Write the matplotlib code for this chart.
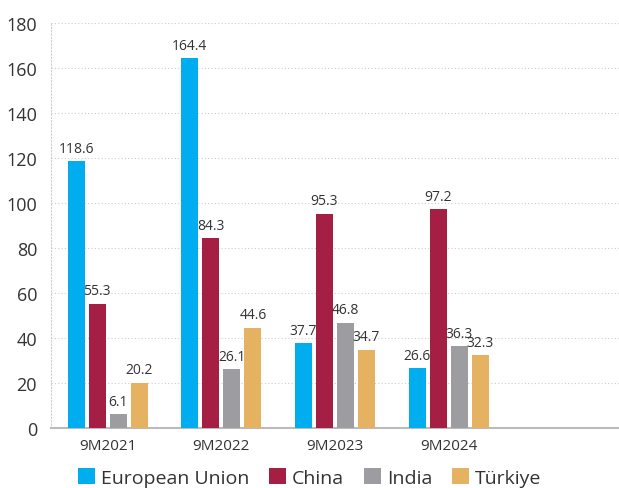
import matplotlib.pyplot as plt
import numpy as np

periods = ["9M2021", "9M2022", "9M2023", "9M2024"]
series_names = ["European Union", "China", "India", "Türkiye"]
eu = [118.6, 164.4, 37.7, 26.6]
china = [55.3, 84.3, 95.3, 97.2]
india = [6.1, 26.1, 46.8, 36.3]
turkiye = [20.2, 44.6, 34.7, 32.3]
colors = ["#00aeef", "#a51f45", "#9d9ca1", "#e5b262"]

plt.rcParams['font.family'] = ['Open Sans', 'DejaVu Sans']
text_color = "#333333"

fig = plt.figure(figsize=(6.19, 4.89), dpi=100)
ax = fig.add_axes([0.0824, 0.1227, 0.9176, 0.8283])

x = np.arange(len(periods))
width = 0.15
step = 0.185
all_series = [eu, china, india, turkiye]

for i, (name, vals, col) in enumerate(zip(series_names, all_series, colors)):
    offs = (i - 1.5) * step
    bars = ax.bar(x + offs, vals, width, color=col, label=name, zorder=3)
    for bar, v in zip(bars, vals):
        ax.annotate("{:.1f}".format(v), xy=(bar.get_x() + bar.get_width() / 2, v),
                    xytext=(0, 4), textcoords="offset points", ha='center', va='bottom',
                    fontsize=10, color=text_color)

ax.set_xlim(-0.5, 4.5)
ax.set_ylim(0, 180)
ax.set_yticks(range(0, 181, 20))
ax.set_xticks(x)
ax.set_xticklabels(periods)
ax.tick_params(axis='y', length=0, labelsize=13, colors=text_color, pad=10)
ax.tick_params(axis='x', length=0, labelsize=11, colors=text_color, pad=7)

ax.grid(axis='y', linestyle=(0, (1, 2)), color="#cccccc", linewidth=0.8, zorder=0)
for side in ["top", "right"]:
    ax.spines[side].set_visible(False)
ax.spines["left"].set_linestyle((0, (1, 2)))
ax.spines["left"].set_color("#cccccc")
ax.spines["bottom"].set_color("#bbbbbb")
ax.spines["bottom"].set_linewidth(1.5)

fig.legend(loc='center', bbox_to_anchor=(0.5, 0.022), ncol=4, frameon=False,
           fontsize=14, handlelength=0.9, handleheight=0.9, handletextpad=0.3,
           columnspacing=1.0, labelcolor=text_color)

fig.savefig("out.png", dpi=100)
